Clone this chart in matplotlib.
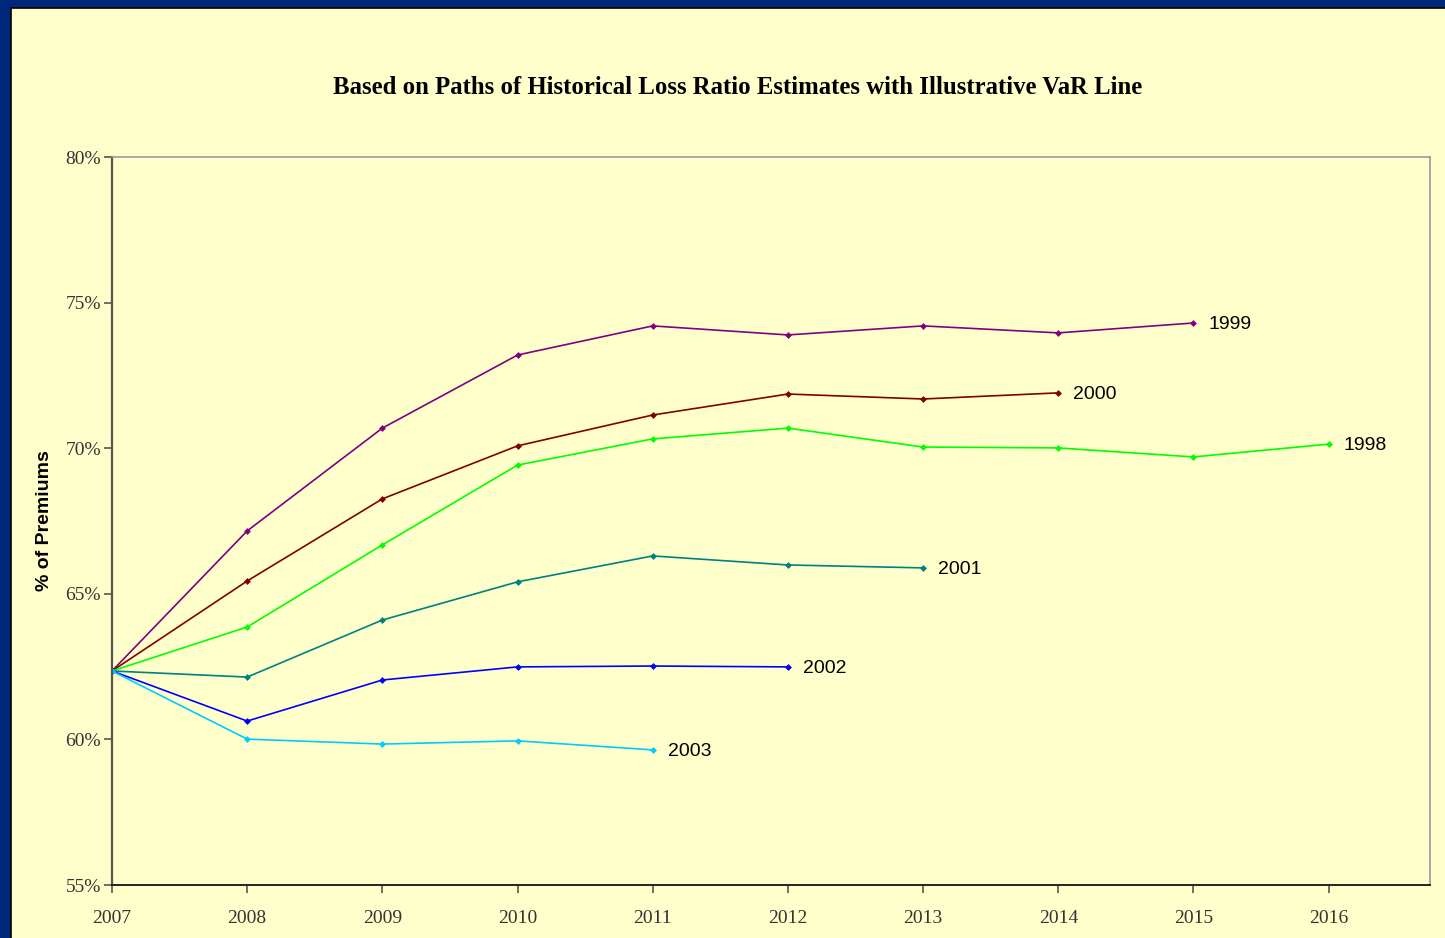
import numpy as np
import matplotlib.pyplot as plt
from matplotlib.patches import Rectangle
from matplotlib.ticker import FuncFormatter

years = [2007, 2008, 2009, 2010, 2011, 2012, 2013, 2014, 2015, 2016]
start = 62.35

# loss ratio paths (% of premiums), one per accident year
path_1999 = [start, 67.16, 70.69, 73.20, 74.20, 73.89, 74.20, 73.96, 74.30]
path_2000 = [start, 65.44, 68.26, 70.08, 71.14, 71.86, 71.69, 71.90]
path_1998 = [start, 63.86, 66.68, 69.42, 70.32, 70.69, 70.04, 70.01, 69.70, 70.14]
path_2001 = [start, 62.14, 64.10, 65.41, 66.30, 65.99, 65.89]
path_2002 = [start, 60.63, 62.04, 62.49, 62.52, 62.49]
path_2003 = [start, 60.01, 59.84, 59.95, 59.64]

labels = ['1999', '2000', '1998', '2001', '2002', '2003']
paths = [path_1999, path_2000, path_1998, path_2001, path_2002, path_2003]
colors = ['#800080', '#800000', '#00FF00', '#008080', '#0000FF', '#00CCFF']

bg = '#FFFFCC'
fig = plt.figure(figsize=(14.45, 9.38), dpi=100, facecolor='#00287A')
W, H = 1445, 938
# yellow panel inside the navy frame
fig.patches.append(Rectangle((11 / W, -0.05), 1.1, 1.05 - 8 / H,
                             transform=fig.transFigure, facecolor=bg,
                             edgecolor='black', linewidth=1.2, zorder=0))

ax = fig.add_axes([112 / W, 1 - 885 / H, (1430 - 112) / W, (885 - 157) / H])
ax.set_zorder(2)
ax.set_facecolor(bg)

for lab, p, c in zip(labels, paths, colors):
    x = years[:len(p)]
    ax.plot(x, p, color=c, linewidth=1.2, marker='D', markersize=3.5,
            markeredgewidth=0)
    ax.text(x[-1] + 0.11, p[-1] - 0.05, lab, fontsize=14, family='Liberation Sans',
            va='center', ha='left', color='black')

ax.set_xlim(2007, 2016.75)
ax.set_ylim(55, 80)
ax.set_xticks(years)
ax.set_yticks([55, 60, 65, 70, 75, 80])
ax.yaxis.set_major_formatter(FuncFormatter(lambda v, _: f'{v:.0f}%'))
for t in ax.get_xticklabels() + ax.get_yticklabels():
    t.set_family('Liberation Serif')
    t.set_fontsize(14)
    t.set_color('#333333')
ax.tick_params(axis='x', length=6, width=1.2, color='#555555', pad=12)
ax.tick_params(axis='y', length=6, width=1.2, color='#555555', pad=2)

ax.spines['left'].set_color('#555555')
ax.spines['left'].set_linewidth(1.6)
ax.spines['bottom'].set_color('#222222')
ax.spines['bottom'].set_linewidth(1.4)
for s in ['top', 'right']:
    ax.spines[s].set_color('#999999')
    ax.spines[s].set_linewidth(1.2)

ax.set_ylabel('% of Premiums', family='Liberation Sans', fontweight='bold',
              fontsize=14)
ax.yaxis.set_label_coords((53 - 112) / 1318, 0.5)

fig.text(738 / W, 1 - 87 / H,
         'Based on Paths of Historical Loss Ratio Estimates with Illustrative VaR Line',
         family='Liberation Serif', fontweight='bold', fontsize=17.8,
         ha='center', va='center')

fig.savefig('out.png', dpi=100, facecolor=fig.get_facecolor())
